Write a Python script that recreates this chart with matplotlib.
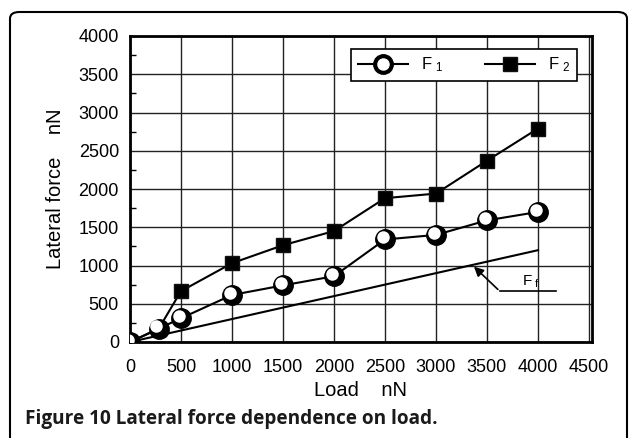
import matplotlib
matplotlib.use("Agg")
import matplotlib.pyplot as plt
from matplotlib.patches import FancyBboxPatch
from matplotlib.transforms import ScaledTranslation
from matplotlib.legend_handler import HandlerTuple

plt.rcParams['font.family'] = ['Liberation Sans', 'DejaVu Sans']
plt.rcParams['mathtext.fontset'] = 'custom'
plt.rcParams['mathtext.rm'] = 'Liberation Sans'

# Measured data
load = [0, 280, 500, 1000, 1500, 2000, 2500, 3000, 3500, 4000]
f1 = [0, 175, 310, 615, 740, 860, 1340, 1400, 1590, 1700]
f2 = [0, 170, 665, 1030, 1265, 1450, 1880, 1940, 2370, 2790]
ff_load = [0, 4000]
ff = [0, 1200]

x_ticks = [0, 500, 1000, 1500, 2000, 2500, 3000, 3500, 4000, 4500]
y_ticks = [0, 500, 1000, 1500, 2000, 2500, 3000, 3500, 4000]

W, H = 629, 438
fig = plt.figure(figsize=(W / 100, H / 100), dpi=100)
ax = fig.add_axes([130 / W, 1 - 342 / H, (592 - 130) / W, (342 - 36) / H])

ax.set_xlim(0, 4530)
ax.set_ylim(0, 4000)
ax.set_xticks(x_ticks)
ax.set_yticks(y_ticks)
ax.set_yticks(range(250, 4000, 500), minor=True)
ax.grid(True, which='major', color='#222222', lw=1.0)
ax.set_axisbelow(True)
for s in ax.spines.values():
    s.set_linewidth(2.0)
ax.tick_params(axis='x', which='major', length=0, labelsize=13, pad=12)
ax.tick_params(axis='y', which='major', length=0, labelsize=13, pad=8)
ax.tick_params(axis='y', which='minor', direction='in', length=4, width=1)

ax.plot(ff_load, ff, color='black', lw=1.5)
l2, = ax.plot(load, f2, color='black', lw=1.5, marker='s', ms=10,
              mfc='black', mec='#111111', zorder=3)
l1, = ax.plot(load, f1, color='black', lw=1.5, marker='o', ms=14, mew=1,
              mfc='black', mec='black', zorder=4)
# white highlight on each sphere marker, shifted up-left
shift = ax.transData + ScaledTranslation(-1.6 / 72, 1.6 / 72, fig.dpi_scale_trans)
h1, = ax.plot(load, f1, linestyle='none', marker='o', ms=9, mfc='white', mew=0,
              transform=shift, zorder=5)

# Friction-line annotation
ax.annotate('', xy=(3353, 1010), xytext=(3627, 662),
            arrowprops=dict(arrowstyle='-|>', color='black', lw=1.2,
                            mutation_scale=14))
ax.plot([3627, 4176], [662, 662], color='black', lw=1.2)
ax.text(3840, 790, r'$\mathregular{F_{\ f}}$', fontsize=11, ha='left', va='center')

leg = ax.legend([(l1, h1), l2],
                [r'$\mathregular{F_{\ 1}}$', r'$\mathregular{F_{\ 2}}$'],
                handler_map={tuple: HandlerTuple(ndivide=1, pad=0)},
                ncol=2, loc='upper right',
                bbox_to_anchor=(0.985, 0.985), frameon=True, fancybox=False,
                edgecolor='black', framealpha=1, fontsize=12,
                handlelength=3, columnspacing=2.5, borderpad=0.4)
leg.get_frame().set_linewidth(1.2)

ax.set_xlabel('Load    nN', fontsize=14.5, labelpad=4)
ax.set_ylabel('Lateral force    nN', fontsize=14.5, labelpad=10)

fig.text(25 / W, 1 - 419 / H, 'Figure 10 Lateral force dependence on load.',
         fontsize=13.7, fontweight='bold', family=['Open Sans', 'DejaVu Sans'],
         color='#1a1a1a', va='center', ha='left')

border = FancyBboxPatch((10 / W, -0.1), (627 - 10) / W, 1 - 12 / H + 0.1,
                        boxstyle='round,pad=0,rounding_size=0.015',
                        transform=fig.transFigure, fill=False,
                        edgecolor='black', lw=1.5, clip_on=False)
fig.patches.append(border)

fig.savefig('out.png', dpi=100)
